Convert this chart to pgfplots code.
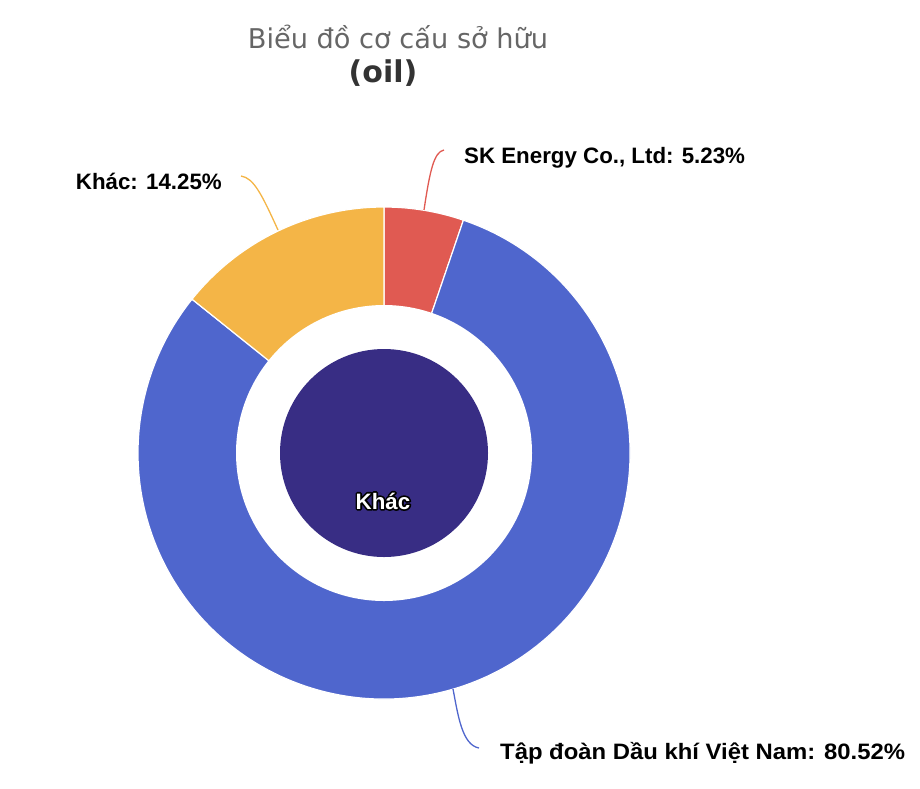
\documentclass[border=0pt]{standalone}
\usepackage{pgfplots}
\usepackage{pgfplotstable}
\pgfplotsset{compat=1.18}
\usepackage{fontspec}
\setmainfont{DejaVu Sans}
\newfontfamily\lab{Liberation Sans}
\newfontfamily\labw[FakeStretch=1.07]{Liberation Sans}
\definecolor{cred}{HTML}{E05A52}
\definecolor{cblue}{HTML}{4F66CD}
\definecolor{cyel}{HTML}{F4B547}
\definecolor{cpur}{HTML}{382D84}
\definecolor{ctitle}{HTML}{666666}
\definecolor{csub}{HTML}{333333}
\pgfplotstableread{
name share
SK 5.23
PVN 80.52
Khac 14.25
}\shares
\pgfplotstablegetelem{0}{share}\of\shares \let\vA\pgfplotsretval
\pgfplotstablegetelem{1}{share}\of\shares \let\vB\pgfplotsretval
\pgfplotstablegetelem{2}{share}\of\shares \let\vC\pgfplotsretval
\pgfmathsetmacro{\aA}{90}
\pgfmathsetmacro{\aB}{90-3.6*\vA}
\pgfmathsetmacro{\aC}{\aB-3.6*\vB}
\pgfmathsetmacro{\aD}{\aC-3.6*\vC}
\newcommand{\lbl}{\lab\bfseries\fontsize{22.3}{25}\selectfont}
\newcommand{\lblw}{\labw\bfseries\fontsize{22.3}{25}\selectfont}
\begin{document}
\begin{tikzpicture}
\begin{axis}[x=1pt,y=1pt,y dir=reverse,xmin=0,xmax=920,ymin=0,ymax=788,
  hide axis,clip=false,scale only axis]
\path (axis cs:0,0) rectangle (axis cs:920,788);
\fill[cred,draw=white,line width=1.2pt] (axis cs:384,453) -- ++(\aA:246pt) arc[start angle=\aA,end angle=\aB,radius=246pt] -- cycle;
\fill[cblue,draw=white,line width=1.2pt] (axis cs:384,453) -- ++(\aB:246pt) arc[start angle=\aB,end angle=\aC,radius=246pt] -- cycle;
\fill[cyel,draw=white,line width=1.2pt] (axis cs:384,453) -- ++(\aC:246pt) arc[start angle=\aC,end angle=\aD,radius=246pt] -- cycle;
\fill[white] (axis cs:384,453) circle[radius=148pt];
\fill[cpur] (axis cs:384,453) circle[radius=104pt];
% connectors
\draw[cred,line width=1.3pt] (axis cs:424,210) .. controls (axis cs:430,170) and (axis cs:434,152) .. (axis cs:444,150);
\draw[cyel,line width=1.3pt] (axis cs:278,230) .. controls (axis cs:262,195) and (axis cs:254,178) .. (axis cs:241,176);
\draw[cblue,line width=1.3pt] (axis cs:453,689) .. controls (axis cs:458,715) and (axis cs:462,745) .. (axis cs:479,748);
% labels
\node[anchor=base west,inner sep=0pt,font=\lbl] at (axis cs:464,163) {SK Energy Co., Ltd: 5.23\%};
\node[anchor=base east,inner sep=0pt,font=\lbl] at (axis cs:222,189) {Khác: 14.25\%};
\node[anchor=base west,inner sep=0pt,font=\lblw] at (axis cs:500,759) {Tập đoàn Dầu khí Việt Nam: 80.52\%};
% title
\node[anchor=base,inner sep=0pt,ctitle,font=\fontsize{27.2}{30}\selectfont] at (axis cs:398,48) {Biểu đồ cơ cấu sở hữu};
\node[anchor=base,inner sep=0pt,csub,font=\bfseries\fontsize{30}{33}\selectfont] at (axis cs:383,82) {(oil)};
% center label with outline: stroked copy below, plain white copy on top
\node[anchor=base,inner sep=0pt,black,font=\lbl] at (axis cs:383,509) {\special{pdf:literal direct 1 Tr 3.4 w 1 j 0 0 0 RG}Khác\special{pdf:literal direct 0 Tr}};
\node[anchor=base,inner sep=0pt,white,font=\lbl] at (axis cs:383,509) {Khác};
\end{axis}
\end{tikzpicture}
\end{document}
